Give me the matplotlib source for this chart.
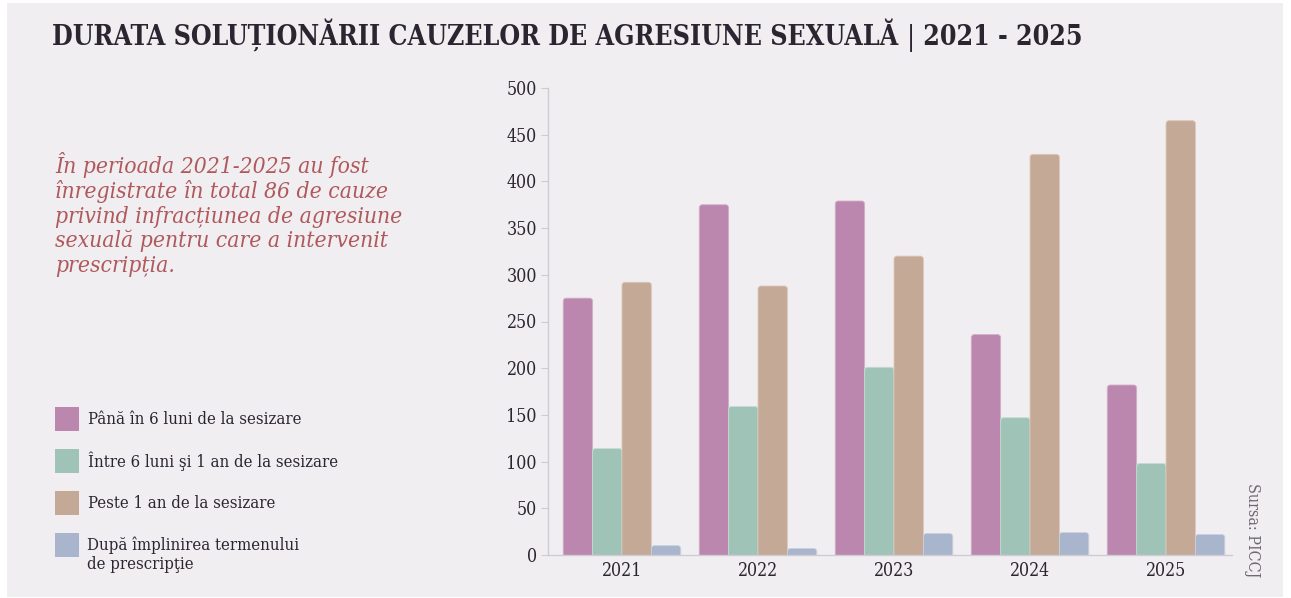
import matplotlib
matplotlib.use("Agg")
import matplotlib.pyplot as plt
import numpy as np
from matplotlib.patches import Rectangle, FancyBboxPatch

plt.rcParams['font.family'] = ['DejaVu Serif']
plt.rcParams['font.stretch'] = 'condensed'

years = ['2021', '2022', '2023', '2024', '2025']
sub_6_luni = [275, 375, 379, 236, 182]
intre_6_luni_1_an = [114, 159, 201, 147, 98]
peste_1_an = [292, 288, 320, 429, 465]
dupa_prescriptie = [10, 7, 23, 24, 22]

series_labels = ['Până în 6 luni de la sesizare',
                 'Între 6 luni şi 1 an de la sesizare',
                 'Peste 1 an de la sesizare',
                 'După împlinirea termenului\nde prescripţie']
colors = ['#bc87ae', '#9fc4b7', '#c4a997', '#a9b5cc']
edges = ['#d3afc9', '#c3ddd4', '#dcc7b9', '#c9d1e0']

bg = '#f0eef1'
dark = '#2b2531'

fig = plt.figure(figsize=(12.91, 5.98), dpi=100)
fig.patch.set_facecolor('white')
fig.patches.append(Rectangle((7 / 1291, 1 / 598), 1276 / 1291, 594 / 598,
                             transform=fig.transFigure, facecolor=bg,
                             edgecolor='none', zorder=-10))

# titlu: bara verticala intre cele doua parti e mai subtire
renderer = fig.canvas.get_renderer()
title_parts = [('DURATA SOLUȚIONĂRII CAUZELOR DE AGRESIUNE SEXUALĂ ', 'bold'),
               ('|', 'light'),
               (' 2021 - 2025', 'bold')]
tx = 52
for txt, wgt in title_parts:
    t = fig.text(tx / 1291, 1 - 45 / 598, txt, fontsize=19.1, fontweight=wgt,
                 color=dark, va='baseline')
    tx += t.get_window_extent(renderer).width

fig.text(55 / 1291, 1 - 152 / 598,
         'În perioada 2021-2025 au fost\n'
         'înregistrate în total 86 de cauze\n'
         'privind infracțiunea de agresiune\n'
         'sexuală pentru care a intervenit\n'
         'prescripția.',
         fontsize=16.4, style='italic', color='#b0595c', va='top',
         linespacing=1.13)

# legenda din stanga
leg_y = [419, 461, 503, 545]
for y, lab, c in zip(leg_y, series_labels, colors):
    fig.patches.append(Rectangle((55 / 1291, 1 - (y + 12) / 598), 24 / 1291, 24 / 598,
                                 transform=fig.transFigure, facecolor=c,
                                 edgecolor='none'))
    if '\n' in lab:
        fig.text(87 / 1291, 1 - (y - 9) / 598, lab, fontsize=12, color=dark,
                 va='top', linespacing=1.2)
    else:
        fig.text(88 / 1291, 1 - y / 598, lab, fontsize=12, color=dark,
                 va='center')

ax = fig.add_axes([548 / 1291, 1 - 555 / 598, 684 / 1291, 467 / 598])
ax.set_facecolor(bg)
ax.set_xlim(-0.544, 4.485)
ax.set_ylim(0, 500)

x = np.arange(len(years))
w = 0.216
data = [sub_6_luni, intre_6_luni_1_an, peste_1_an, dupa_prescriptie]

# colturi rotunjite sus (~3 px); jos se taie la axa
px_x = 684 / (4.485 + 0.544)
px_y = 467 / 500
r = 3 / px_x
aspect = px_x / px_y
for i, (vals, c, e) in enumerate(zip(data, colors, edges)):
    bars = ax.bar(x + (i - 1.5) * w, vals, width=w, color=c, zorder=3)
    for b in bars:
        b.remove()
        bx, bw, bh = b.get_x(), b.get_width(), b.get_height()
        ax.add_patch(FancyBboxPatch((bx, -r * aspect), bw, bh + r * aspect,
                                    boxstyle=f'round,pad=0,rounding_size={r}',
                                    mutation_aspect=aspect, facecolor=c,
                                    edgecolor=e, linewidth=0.6, zorder=3))

ax.set_yticks(range(0, 501, 50))
ax.set_xticks(x)
ax.set_xticklabels(years)
for s in ['top', 'right']:
    ax.spines[s].set_visible(False)
for s in ['left', 'bottom']:
    ax.spines[s].set_color('#cfcbd2')
    ax.spines[s].set_linewidth(1.0)
    ax.spines[s].set_zorder(4)
ax.tick_params(axis='y', length=5, color='#cfcbd2', labelsize=12.8,
               labelcolor=dark, pad=3)
ax.tick_params(axis='x', length=0, labelsize=12.8, labelcolor=dark, pad=5)

fig.text(1252 / 1291, 1 - 530 / 598, 'Sursa: PICCJ', rotation=270,
         fontsize=11.5, color='#6e6873', ha='center', va='center')

fig.savefig('out.png', dpi=100, facecolor=fig.get_facecolor())
